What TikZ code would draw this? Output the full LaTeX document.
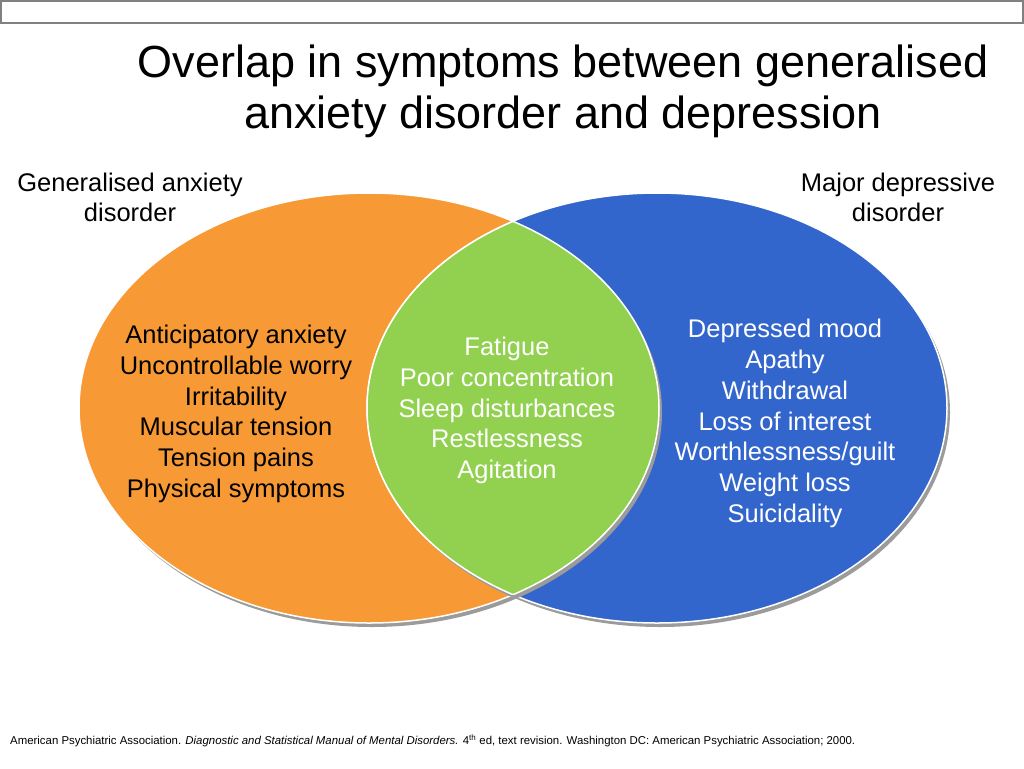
\documentclass[tikz,border=0pt]{standalone}
\usepackage{fontspec}
\setmainfont{Liberation Sans}
\definecolor{gadorange}{RGB}{247,154,54}
\definecolor{mddblue}{RGB}{51,102,204}
\definecolor{overlapgreen}{RGB}{146,208,80}
\definecolor{shadowgray}{RGB}{155,155,155}

\begin{document}
\begin{tikzpicture}[x=1pt, y=-1pt,
        sym/.style ={align=center, font=\fontsize{25.5}{30.75}\selectfont},
        rim/.style ={draw=white, line width=1.5pt},
        shadow/.style ={fill=shadowgray}]

        \useasboundingbox (0,0) rectangle (1024,768);
        \draw[gray, line width=1.2pt] (1,1) rectangle (1023,23);

        \coordinate (gadc) at (369,408);
        \coordinate (mddc) at (657,408);

        %elipses
        \fill[shadow] ([shift={(3,4)}]gadc) ellipse [x radius=290pt, y radius=215pt];
        \path[fill=gadorange, rim] (gadc) ellipse [x radius=290pt, y radius=215pt];
        \fill[shadow] ([shift={(3,4)}]mddc) ellipse [x radius=290pt, y radius=215pt];
        \path[fill=mddblue, rim] (mddc) ellipse [x radius=290pt, y radius=215pt];

        %interseccion
        \begin{scope}
            \clip ([shift={(3,4)}]gadc) ellipse [x radius=290pt, y radius=215pt];
            \fill[shadow] ([shift={(3,4)}]mddc) ellipse [x radius=290pt, y radius=215pt];
        \end{scope}
        \begin{scope}
            \clip (gadc) ellipse [x radius=290pt, y radius=215pt];
            \fill[overlapgreen] (mddc) ellipse [x radius=290pt, y radius=215pt];
            \draw[rim] (mddc) ellipse [x radius=290pt, y radius=215pt];
        \end{scope}
        \begin{scope}
            \clip (mddc) ellipse [x radius=290pt, y radius=215pt];
            \draw[rim] (gadc) ellipse [x radius=290pt, y radius=215pt];
        \end{scope}

        \node[align=center, font=\fontsize{45}{51}\selectfont] (title) at (563,91.5)
            {Overlap in symptoms between generalised\\anxiety disorder and depression};
        \node[sym] (gadlabel) at (130,197.5) {Generalised anxiety\\disorder};
        \node[sym] (mddlabel) at (898,197.5) {Major depressive\\disorder};

        \node[sym] (gadlist) at (236,414) {Anticipatory anxiety\\Uncontrollable worry\\Irritability\\Muscular tension\\Tension pains\\Physical symptoms};
        \node[sym, white] (shared) at (507,410.5) {Fatigue\\Poor concentration\\Sleep disturbances\\Restlessness\\Agitation};
        \node[sym, white] (mddlist) at (785,423.5) {Depressed mood\\Apathy\\Withdrawal\\Loss of interest\\Worthlessness/guilt\\Weight loss\\Suicidality};

        \node[anchor=west, inner sep=0pt, font=\fontsize{11.4}{13}\selectfont] (source) at (10,741)
            {American Psychiatric Association. \textit{Diagnostic and Statistical Manual of Mental Disorders.} 4\textsuperscript{th} ed, text revision. Washington DC: American Psychiatric Association; 2000.};
\end{tikzpicture}
\end{document}
